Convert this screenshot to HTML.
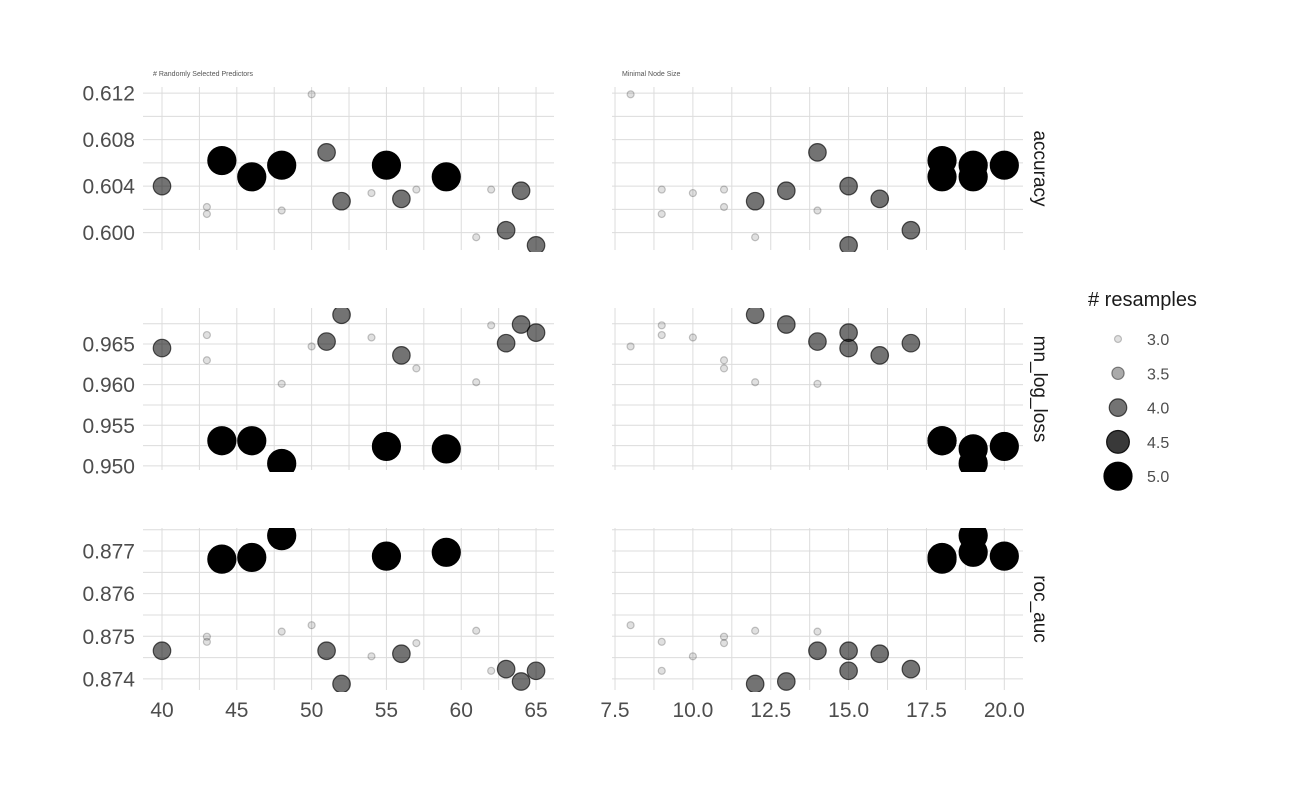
<!DOCTYPE html>
<html><head><meta charset="utf-8"><style>
body{margin:0;background:#fff;width:1296px;height:800px;overflow:hidden;font-family:"Liberation Sans",sans-serif}
</style></head><body>
<svg id="chart" width="1296" height="800" xmlns="http://www.w3.org/2000/svg"></svg>
<script>
const mtry = [40,43,43,44,46,48,48,50,51,52,54,55,56,57,59,61,62,63,64,65];
const minN = [15,9,11,18,18,19,14,8,14,12,10,20,16,11,19,12,9,17,13,15];
const resamples = [4,3,3,5,5,5,3,3,4,4,3,5,4,3,5,3,3,4,4,4];
const accuracy = [.6040,.6016,.6022,.6062,.6048,.6058,.6019,.6119,.6069,.6027,.6034,.6058,.6029,.6037,.6048,.5996,.6037,.6002,.6036,.5989];
const logLoss = [.9645,.9661,.9630,.9531,.9531,.9503,.9601,.9647,.9653,.9686,.9658,.9524,.9636,.9620,.9521,.9603,.9673,.9651,.9674,.9664];
const rocAuc = [.87466,.87487,.87499,.87681,.87685,.87736,.87511,.87526,.87466,.87388,.87453,.87688,.87459,.87484,.87697,.87513,.87419,.87423,.87394,.87419];
const metricNames = ["accuracy","mn_log_loss","roc_auc"];
const yTicks = [[0.600,0.604,0.608,0.612],[0.950,0.955,0.960,0.965],[0.874,0.875,0.876,0.877]];
const yTickLabels = [["0.600","0.604","0.608","0.612"],["0.950","0.955","0.960","0.965"],["0.874","0.875","0.876","0.877"]];
const xTicksL = [40,45,50,55,60,65];
const xTicksR = [7.5,10,12.5,15,17.5,20];
const xTickLabelsR = ["7.5","10.0","12.5","15.0","17.5","20.0"];
const legendValues = [3.0,3.5,4.0,4.5,5.0];

const svg=document.getElementById('chart');
const NS="http://www.w3.org/2000/svg";
function mk(tag,attrs,parent){const e=document.createElementNS(NS,tag);for(const k in attrs)e.setAttribute(k,attrs[k]);(parent||svg).appendChild(e);return e;}
const rows=[{top:87,bot:250,d:[0.5985,0.61253],minor:0.002},{top:308,bot:470,d:[0.9495,0.96943],minor:0.0025},{top:528,bot:690,d:[0.87374,0.87754],minor:0.0005}];
const cols=[{l:143,r:554,d:[38.73,66.2],minor:2.5},{l:612,r:1023,d:[7.403,20.6],minor:1.25}];
const metrics=[accuracy,logLoss,rocAuc];
const xs=[mtry,minN];
function rad(r){return 3.5+(r-3)/2*10.5;}
function alphaOf(r){const t=(r-3)/2;return t<=0.5?0.12+t*2*0.43:0.55+(t-0.5)*2*0.45;}
function fillOf(r){return `rgba(0,0,0,${alphaOf(r).toFixed(3)})`;}
function strokeOf(r){return `rgba(0,0,0,${Math.min(1,alphaOf(r)+0.1).toFixed(3)})`;}
function sx(c,v){const C=cols[c];return C.l+(v-C.d[0])/(C.d[1]-C.d[0])*(C.r-C.l);}
function sy(r,v){const R=rows[r];return R.bot-(v-R.d[0])/(R.d[1]-R.d[0])*(R.bot-R.top);}
const defs=mk('defs',{});
for(let r=0;r<3;r++){for(let c=0;c<2;c++){
  const R=rows[r],C=cols[c];
  const cp=mk('clipPath',{id:`clip${r}${c}`},defs);
  mk('rect',{x:C.l,y:R.top,width:C.r-C.l,height:R.bot-R.top+2},cp);
  const g=mk('g',{});
  
  
  let s=Math.ceil(R.d[0]/R.minor)*R.minor;
  for(let v=s;v<=R.d[1]+1e-9;v+=R.minor){const y=sy(r,v);mk('line',{x1:C.l,x2:C.r,y1:y,y2:y,stroke:'#dcdcdc','stroke-width':1},g);}
  s=Math.ceil(C.d[0]/C.minor)*C.minor;
  for(let v=s;v<=C.d[1]+1e-9;v+=C.minor){const x=sx(c,v);mk('line',{x1:x,x2:x,y1:R.top,y2:R.bot,stroke:'#dcdcdc','stroke-width':1},g);}
  const pg=mk('g',{'clip-path':`url(#clip${r}${c})`},g);
  const idx=[...Array(mtry.length).keys()].sort((a,b)=>resamples[a]-resamples[b]);
  for(const i of idx){const rs=resamples[i];
    const p=mk('circle',{cx:sx(c,xs[c][i]),cy:sy(r,metrics[r][i]),r:rad(rs),fill:fillOf(rs),stroke:strokeOf(rs),'stroke-width':1.2},pg);
    
    
  }
  if(c===0){yTicks[r].forEach((v,k)=>{const t=mk('text',{x:135,y:sy(r,v)+7.5,'text-anchor':'end','font-size':21,fill:'#4d4d4d'},g);t.textContent=yTickLabels[r][k];
    });}
  if(r===2){const tk=c===0?xTicksL:xTicksR;tk.forEach((v,k)=>{const t=mk('text',{x:sx(c,v),y:717,'text-anchor':'middle','font-size':21,fill:'#4d4d4d'},g);t.textContent=c===0?String(v):xTickLabelsR[k];
    });}
}
 const cy=(rows[r].top+rows[r].bot)/2;
 const st=mk('text',{x:1034,y:cy,transform:`rotate(90 1034 ${cy})`,'text-anchor':'middle','font-size':19,fill:'#1a1a1a'});
 st.textContent=metricNames[r];
 
 
}
const t1=mk('text',{x:153,y:76,'font-size':7,fill:'#555'});t1.textContent='# Randomly Selected Predictors';


const t2=mk('text',{x:622,y:76,'font-size':7,fill:'#555'});t2.textContent='Minimal Node Size';


const lg=mk('g',{});


const lt=mk('text',{x:1088,y:306,'font-size':20,fill:'#1a1a1a'},lg);lt.textContent='# resamples';
legendValues.forEach((v,k)=>{const y=339+k*34.3;
  const c=mk('circle',{cx:1118,cy:y,r:rad(v),fill:fillOf(v),stroke:strokeOf(v),'stroke-width':1.2},lg);
  
  
  const t=mk('text',{x:1147,y:y+6,'font-size':16,fill:'#4d4d4d'},lg);t.textContent=v.toFixed(1);
  
  
});
</script>
</body></html>
